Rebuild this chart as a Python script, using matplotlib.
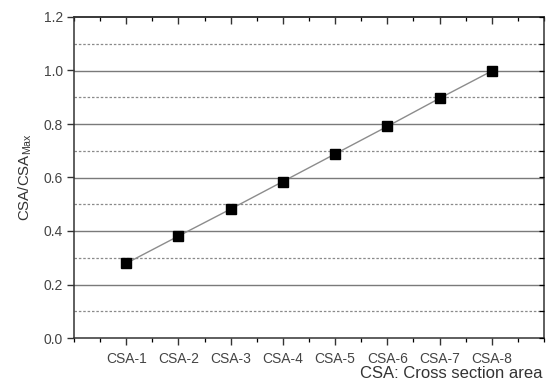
import matplotlib.pyplot as plt
from matplotlib.ticker import MultipleLocator

plt.rcParams['font.family'] = ['Liberation Sans', 'DejaVu Sans']

# data
labels = ["CSA-1", "CSA-2", "CSA-3", "CSA-4", "CSA-5", "CSA-6", "CSA-7", "CSA-8"]
ratio = [0.279, 0.381, 0.482, 0.585, 0.688, 0.791, 0.896, 0.998]
positions = list(range(1, len(labels) + 1))

fig = plt.figure(figsize=(5.48, 3.81), dpi=100)
ax = fig.add_axes([74 / 548, 1 - 338 / 381, 470 / 548, 321 / 381])

# grid: solid at 0.2 steps, dashed in between
for yv in [0.2, 0.4, 0.6, 0.8, 1.0]:
    ax.axhline(yv, color="#7a7a7a", lw=1.0, zorder=0)
for yv in [0.1, 0.3, 0.5, 0.7, 0.9, 1.1]:
    ax.axhline(yv, color="#8a8a8a", lw=0.9, ls=(0, (2, 1.5)), zorder=0)

ax.plot(positions, ratio, color="#8c8c8c", lw=1.0, zorder=2)
ax.plot(positions, ratio, ls="none", marker="s", ms=6.5, color="black", zorder=3)

ax.set_xlim(0, 9)
ax.set_ylim(0, 1.2)
ax.set_xticks(positions)
ax.set_xticklabels(labels)
ax.xaxis.set_minor_locator(MultipleLocator(0.5))
ax.yaxis.set_major_locator(MultipleLocator(0.2))
ax.set_yticklabels([f"{v:.1f}" for v in ax.get_yticks()])

ax.tick_params(axis="both", which="major", direction="out", length=5, width=1.0,
               labelsize=10, colors="#333333", labelcolor="#444444", pad=3)
ax.tick_params(axis="x", which="minor", direction="out", length=3, width=0.9)
ax.tick_params(axis="x", which="major", pad=5)
for sp in ax.spines.values():
    sp.set_linewidth(1.1)
    sp.set_color("#333333")

# top ticks point inward
top = ax.secondary_xaxis("top")
top.set_xticks(positions)
top.xaxis.set_minor_locator(MultipleLocator(0.5))
top.tick_params(axis="x", which="major", direction="in", length=5, width=1.0,
                labeltop=False, colors="#333333")
top.tick_params(axis="x", which="minor", direction="in", length=3, width=0.9)
top.spines["top"].set_linewidth(1.1)
top.spines["top"].set_color("#333333")

# right-hand ticks at every 0.1 pointing inward
ax_r = ax.twinx()
ax_r.set_ylim(0, 1.2)
ax_r.yaxis.set_major_locator(MultipleLocator(0.1))
ax_r.tick_params(axis="y", direction="in", length=3.5, width=0.9, labelright=False)
for sp in ax_r.spines.values():
    sp.set_visible(False)

ax.set_ylabel("CSA/CSA$_{\\mathregular{Max}}$", fontsize=10.8, color="#333333", labelpad=7)
fig.text(543 / 548, 1 - 378 / 381, "CSA: Cross section area", ha="right", va="baseline",
         fontsize=12, color="#333333")

fig.savefig("out.png", dpi=100)
